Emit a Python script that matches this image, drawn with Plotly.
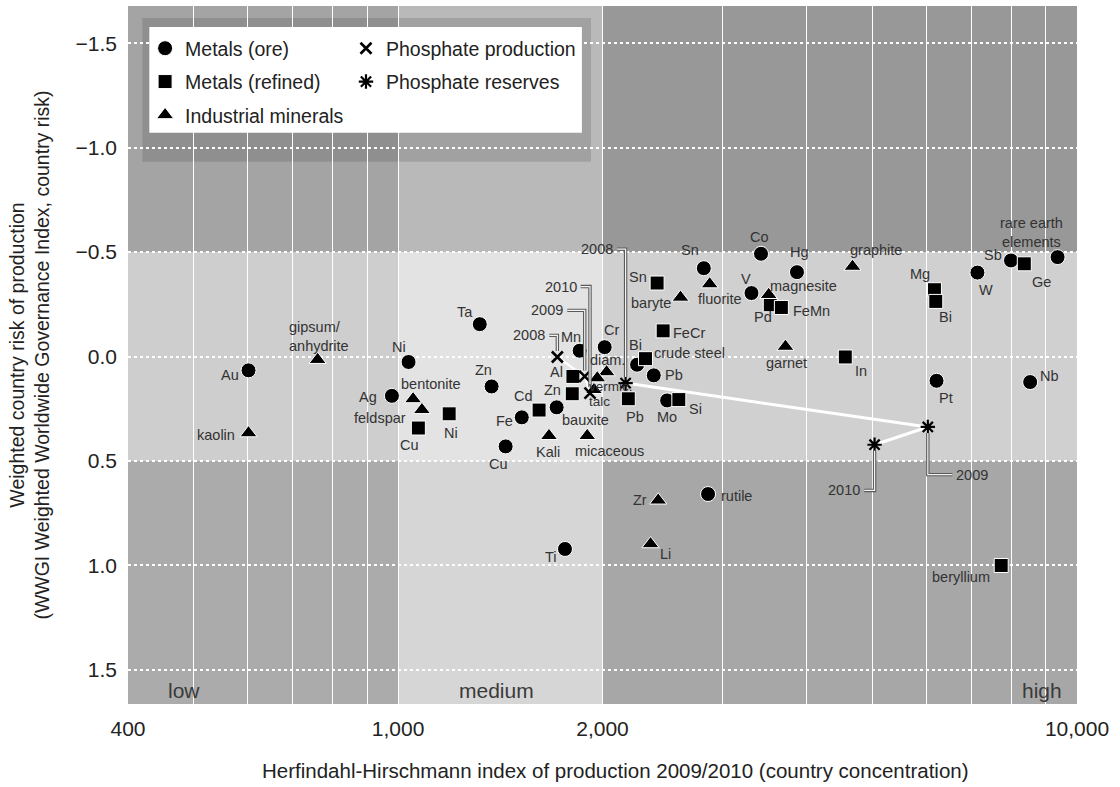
import numpy as np
import plotly.graph_objects as go

# ---------------------------------------------------------------------------
# Data: HHI of production (x) and weighted country risk WWGI (y)
# ---------------------------------------------------------------------------
ore_names = ["Au", "Ni", "Ag", "Ta", "Zn", "Fe", "Cu", "bauxite", "Mn", "Cr",
             "Bi", "Pb", "Mo", "Sn", "Co", "V", "Hg", "Pt", "Nb", "W", "Sb",
             "rare earth<br>elements", "rutile", "Ti"]
ore_hhi = [602, 1036, 979, 1319, 1373, 1521, 1440, 1712, 1851, 2015,
           2249, 2380, 2490, 2820, 3424, 3315, 3868, 6210, 8531, 7134, 7994,
           9363, 2861, 1761]
ore_risk = [0.066, 0.026, 0.188, -0.155, 0.143, 0.291, 0.430, 0.243, -0.028, -0.045,
            0.039, 0.090, 0.210, -0.423, -0.492, -0.304, -0.404, 0.116, 0.122, -0.402, -0.460,
            -0.476, 0.658, 0.921]

refined_names = ["Cu", "Ni", "Cd", "Zn", "Al", "Pb", "crude steel", "FeCr", "Sn", "Si",
                 "Pd", "FeMn", "In", "Mg", "Bi", "Ge", "beryllium"]
refined_hhi = [1071, 1189, 1613, 1805, 1809, 2183, 2314, 2457, 2407, 2591,
               3533, 3669, 4557, 6166, 6194, 8363, 7733]
refined_risk = [0.342, 0.274, 0.256, 0.178, 0.095, 0.202, 0.010, -0.123, -0.352, 0.206,
                -0.248, -0.235, 0.002, -0.320, -0.264, -0.444, 1.000]

mineral_names = ["kaolin", "gipsum/<br>anhydrite", "bentonite", "feldspar", "Kali", "micaceous",
                 "diam.", "vermic.", "talc", "baryte", "fluorite", "magnesite", "garnet",
                 "graphite", "Zr", "Li"]
mineral_hhi = [602, 761, 1052, 1084, 1668, 1899, 2028, 1965, 1943, 2606, 2877, 3514, 3720,
               4670, 2416, 2354]
mineral_risk = [0.366, 0.015, 0.203, 0.255, 0.379, 0.379, 0.074, 0.103, 0.159, -0.283, -0.347,
                -0.296, -0.048, -0.431, 0.688, 0.897]

phos_years = ["2008", "2009", "2010"]
phos_prod_hhi = [1716, 1883, 1917]
phos_prod_risk = [0.002, 0.095, 0.175]
phos_res_hhi = [2163, 6029, 5033]
phos_res_risk = [0.127, 0.337, 0.422]

x_tick_vals = [400, 500, 600, 700, 800, 900, 1000, 2000, 3000, 4000, 5000,
               6000, 7000, 8000, 9000, 10000]
x_tick_text = ["400", "", "", "", "", "", "1,000", "2,000", "", "", "",
               "", "", "", "", "10,000"]
y_tick_vals = [-1.5, -1.0, -0.5, 0.0, 0.5, 1.0, 1.5]

# ---------------------------------------------------------------------------
# Label placement (screen pixels: right, down) relative to each marker
# ---------------------------------------------------------------------------
ore_offsets = {
    "Au": (-19, 5), "Ni": (-10, -15), "Ag": (-24, 1), "Ta": (-15, -12), "Zn": (-8, -16),
    "Fe": (-17, 4), "Cu": (-7, 18), "bauxite": (29, 13), "Mn": (-9, -14), "Cr": (7, -17),
    "Bi": (-2, -20), "Pb": (20, 0), "Mo": (0, 17), "Sn": (-14, -18), "Co": (-2, -17),
    "V": (-5, -14), "Hg": (3, -20), "Pt": (9, 17), "Nb": (19, -6), "W": (9, 17),
    "Sb": (-18, -5), "rare earth<br>elements": (-26, -25), "rutile": (28, 2), "Ti": (-14, 8),
}
refined_offsets = {
    "Cu": (-9, 17), "Ni": (2, 19), "Cd": (-16, -14), "Zn": (-20, -4), "Al": (-16, -4),
    "Pb": (7, 18), "crude steel": (44, -6), "FeCr": (26, 2), "Sn": (-19, -6), "Si": (17, 9),
    "Pd": (-7, 12), "FeMn": (30, 4), "In": (16, 14), "Mg": (-14, -16), "Bi": (10, 16),
    "Ge": (17, 18), "beryllium": (-40, 12),
}
mineral_offsets = {
    "kaolin": (-33, 2), "gipsum/<br>anhydrite": (1, -23), "bentonite": (18, -15),
    "feldspar": (-42, 8), "Kali": (-1, 16), "micaceous": (22, 15), "diam.": (1, -12),
    "vermic.": (14, 8), "talc": (6, 12), "baryte": (-30, 6), "fluorite": (10, 15),
    "magnesite": (35, -9), "garnet": (1, 16), "graphite": (23, -17), "Zr": (-18, 0),
    "Li": (15, 10),
}
label_align = {"gipsum/<br>anhydrite": "left"}
label_size = {"vermic.": 13.5, "talc": 13.5}

# elbow leader lines for the year labels: path points and label anchor
prod_leaders = [
    ([(0, -6), (0, -21.6), (-8, -21.6)], (-10, -21.6), "right"),
    ([(0, -6), (0, -66), (-17.4, -66)], (-19.4, -66), "right"),
    ([(0, -6), (0, -106.6), (-9.3, -106.6)], (-11.3, -106.6), "right"),
]
res_leaders = [
    ([(0, -6), (0, -134), (-8.4, -134)], (-10.4, -134), "right"),
    ([(0, 6), (0, 47.7), (24.6, 47.7)], (26.6, 47.7), "left"),
    ([(0, 6), (0, 45.7), (-10.3, 45.7)], (-12.3, 45.7), "right"),
]

FONT = "Liberation Sans, Arial, sans-serif"
LABEL_COLOR = "#333333"

fig = go.Figure()

# ---------------------------------------------------------------------------
# Background: concentration columns x risk bands
# ---------------------------------------------------------------------------
col_edges = [(400, 1000), (1000, 2000), (2000, 10000)]
band_edges = [(-5, -0.5), (-0.5, 0.5), (0.5, 5)]
cell_colors = [
    ["#a4a4a4", "#b9b9b9", "#989898"],   # high risk (top)
    ["#cecece", "#e3e3e3", "#d0d0d0"],   # medium risk
    ["#ababab", "#d6d6d6", "#a7a7a7"],   # low risk (bottom)
]
for bi, (y0, y1) in enumerate(band_edges):
    for ci, (x0, x1) in enumerate(col_edges):
        fig.add_shape(type="rect", xref="x", yref="y", x0=x0, x1=x1, y0=y0, y1=y1,
                      fillcolor=cell_colors[bi][ci], line_width=0, layer="below")

# legend panel with soft shadow (axis units: HHI, risk)
fig.add_shape(type="rect", xref="x", yref="y", x0=420, x1=1923, y0=-1.621, y1=-0.932,
              fillcolor="rgba(40,40,40,0.16)", line_width=0, layer="below")
fig.add_shape(type="rect", xref="x", yref="y", x0=430, x1=1865, y0=-1.578, y1=-1.071,
              fillcolor="white", line_width=0, layer="below")


def pix_path(pts):
    # pixel offsets (right, down) -> shape path (pixel y grows upward)
    return "M" + " L".join(f"{dx},{-dy}" for dx, dy in pts)


def add_leaders(hhis, risks, leaders):
    for h, r, yr, (pts, (lx, ly), anchor) in zip(hhis, risks, phos_years, leaders):
        for col, w in (("#5a5a5a", 3.4), ("#f4f4f4", 1.2)):
            fig.add_shape(type="path", xref="x", yref="y", xsizemode="pixel",
                          ysizemode="pixel", xanchor=h, yanchor=r, path=pix_path(pts),
                          line=dict(color=col, width=w), layer="above")
        fig.add_annotation(x=np.log10(h), y=r, xref="x", yref="y", text=yr,
                           showarrow=False, xanchor=anchor, yanchor="middle",
                           xshift=lx, yshift=-ly,
                           font=dict(family=FONT, size=14.5, color=LABEL_COLOR))


add_leaders(phos_prod_hhi, phos_prod_risk, prod_leaders)
add_leaders(phos_res_hhi, phos_res_risk, res_leaders)

# ---------------------------------------------------------------------------
# Connecting lines for the phosphate time series
# ---------------------------------------------------------------------------
fig.add_trace(go.Scatter(x=phos_res_hhi, y=phos_res_risk, mode="lines",
                         line=dict(color="white", width=3), showlegend=False,
                         hoverinfo="skip"))
fig.add_trace(go.Scatter(x=phos_prod_hhi, y=phos_prod_risk, mode="lines",
                         line=dict(color="white", width=2.2), showlegend=False,
                         hoverinfo="skip"))

# ---------------------------------------------------------------------------
# Marker series
# ---------------------------------------------------------------------------
outline = dict(color="white", width=1)
fig.add_trace(go.Scatter(x=ore_hhi, y=ore_risk, mode="markers", name="Metals (ore)",
                         marker=dict(symbol="circle", size=15, color="black", line=outline),
                         legend="legend", legendgroup="ore"))
fig.add_trace(go.Scatter(x=refined_hhi, y=refined_risk, mode="markers",
                         name="Metals (refined)",
                         marker=dict(symbol="square", size=14, color="black", line=outline),
                         legend="legend", legendgroup="ref"))
fig.add_trace(go.Scatter(x=mineral_hhi, y=mineral_risk, mode="markers",
                         name="Industrial minerals",
                         marker=dict(symbol="triangle-up", size=15, color="black", line=outline),
                         legend="legend", legendgroup="ind"))
fig.add_trace(go.Scatter(x=phos_prod_hhi, y=phos_prod_risk, mode="markers",
                         name="Phosphate production",
                         marker=dict(symbol="x-thin-open", size=11, color="black",
                                     line=dict(color="black", width=2.6)),
                         legend="legend2", legendgroup="prod"))
fig.add_trace(go.Scatter(x=phos_res_hhi, y=phos_res_risk, mode="markers",
                         name="Phosphate reserves",
                         marker=dict(symbol="asterisk-open", size=12, color="black",
                                     line=dict(color="black", width=2.2)),
                         legend="legend2", legendgroup="res"))

# ---------------------------------------------------------------------------
# Point labels
# ---------------------------------------------------------------------------
for names, hhis, risks, offs in ((ore_names, ore_hhi, ore_risk, ore_offsets),
                                 (refined_names, refined_hhi, refined_risk, refined_offsets),
                                 (mineral_names, mineral_hhi, mineral_risk, mineral_offsets)):
    for n, h, r in zip(names, hhis, risks):
        dx, dy = offs[n]
        fig.add_annotation(x=np.log10(h), y=r, xref="x", yref="y", text=n,
                           showarrow=False, xshift=dx, yshift=-dy,
                           align=label_align.get(n, "center"),
                           font=dict(family=FONT, size=label_size.get(n, 14.5),
                                     color=LABEL_COLOR))

# concentration class labels
for txt, xv in (("low", 483), ("medium", 1396), ("high", 8892)):
    fig.add_annotation(x=np.log10(xv), y=1.6, xref="x", yref="y", text=txt,
                       showarrow=False, xanchor="center", yanchor="middle",
                       font=dict(family=FONT, size=21, color="#3a3a3a"))

# x-axis title
fig.add_annotation(x=0.5137, y=-0.0946, xref="paper", yref="paper",
                   text="Herfindahl-Hirschmann index of production 2009/2010 "
                        "(country concentration)",
                   showarrow=False, xanchor="center", yanchor="middle",
                   font=dict(family=FONT, size=20.5, color="#222"))

# ---------------------------------------------------------------------------
# Layout
# ---------------------------------------------------------------------------
legend_common = dict(bgcolor="rgba(0,0,0,0)", borderwidth=0, traceorder="grouped",
                     tracegroupgap=5, font=dict(family=FONT, size=19.5, color="#222"),
                     yanchor="top", xanchor="left", itemclick=False, itemdoubleclick=False)
fig.update_layout(
    width=1120, height=787,
    margin=dict(l=128, r=43, t=6, b=83),
    paper_bgcolor="white",
    plot_bgcolor="#c8c8c8",
    font=dict(family=FONT, color="#222"),
    legend=dict(x=0.018, y=0.967, **legend_common),
    legend2=dict(x=0.2297, y=0.967, **legend_common),
    xaxis=dict(type="log", range=[np.log10(400), np.log10(10000)],
               tickvals=x_tick_vals, ticktext=x_tick_text, ticks="",
               showgrid=True, gridcolor="white", gridwidth=1.3, zeroline=False,
               showline=False, tickfont=dict(family=FONT, size=21, color="#222"),
               ticklabelstandoff=10),
    yaxis=dict(range=[1.663, -1.678], tickvals=y_tick_vals, tickformat=".1f",
               ticks="", showgrid=True, gridcolor="white", gridwidth=1.5,
               griddash="dot", zeroline=False, showline=False,
               tickfont=dict(family=FONT, size=21, color="#222"),
               ticklabelstandoff=10,
               title=dict(text="Weighted country risk of production<br>"
                               "(WWGI Weighted Worldwide Governance Index, country risk)",
                          font=dict(family=FONT, size=19.5, color="#222"), standoff=20)),
)

fig.write_html("out.html")
